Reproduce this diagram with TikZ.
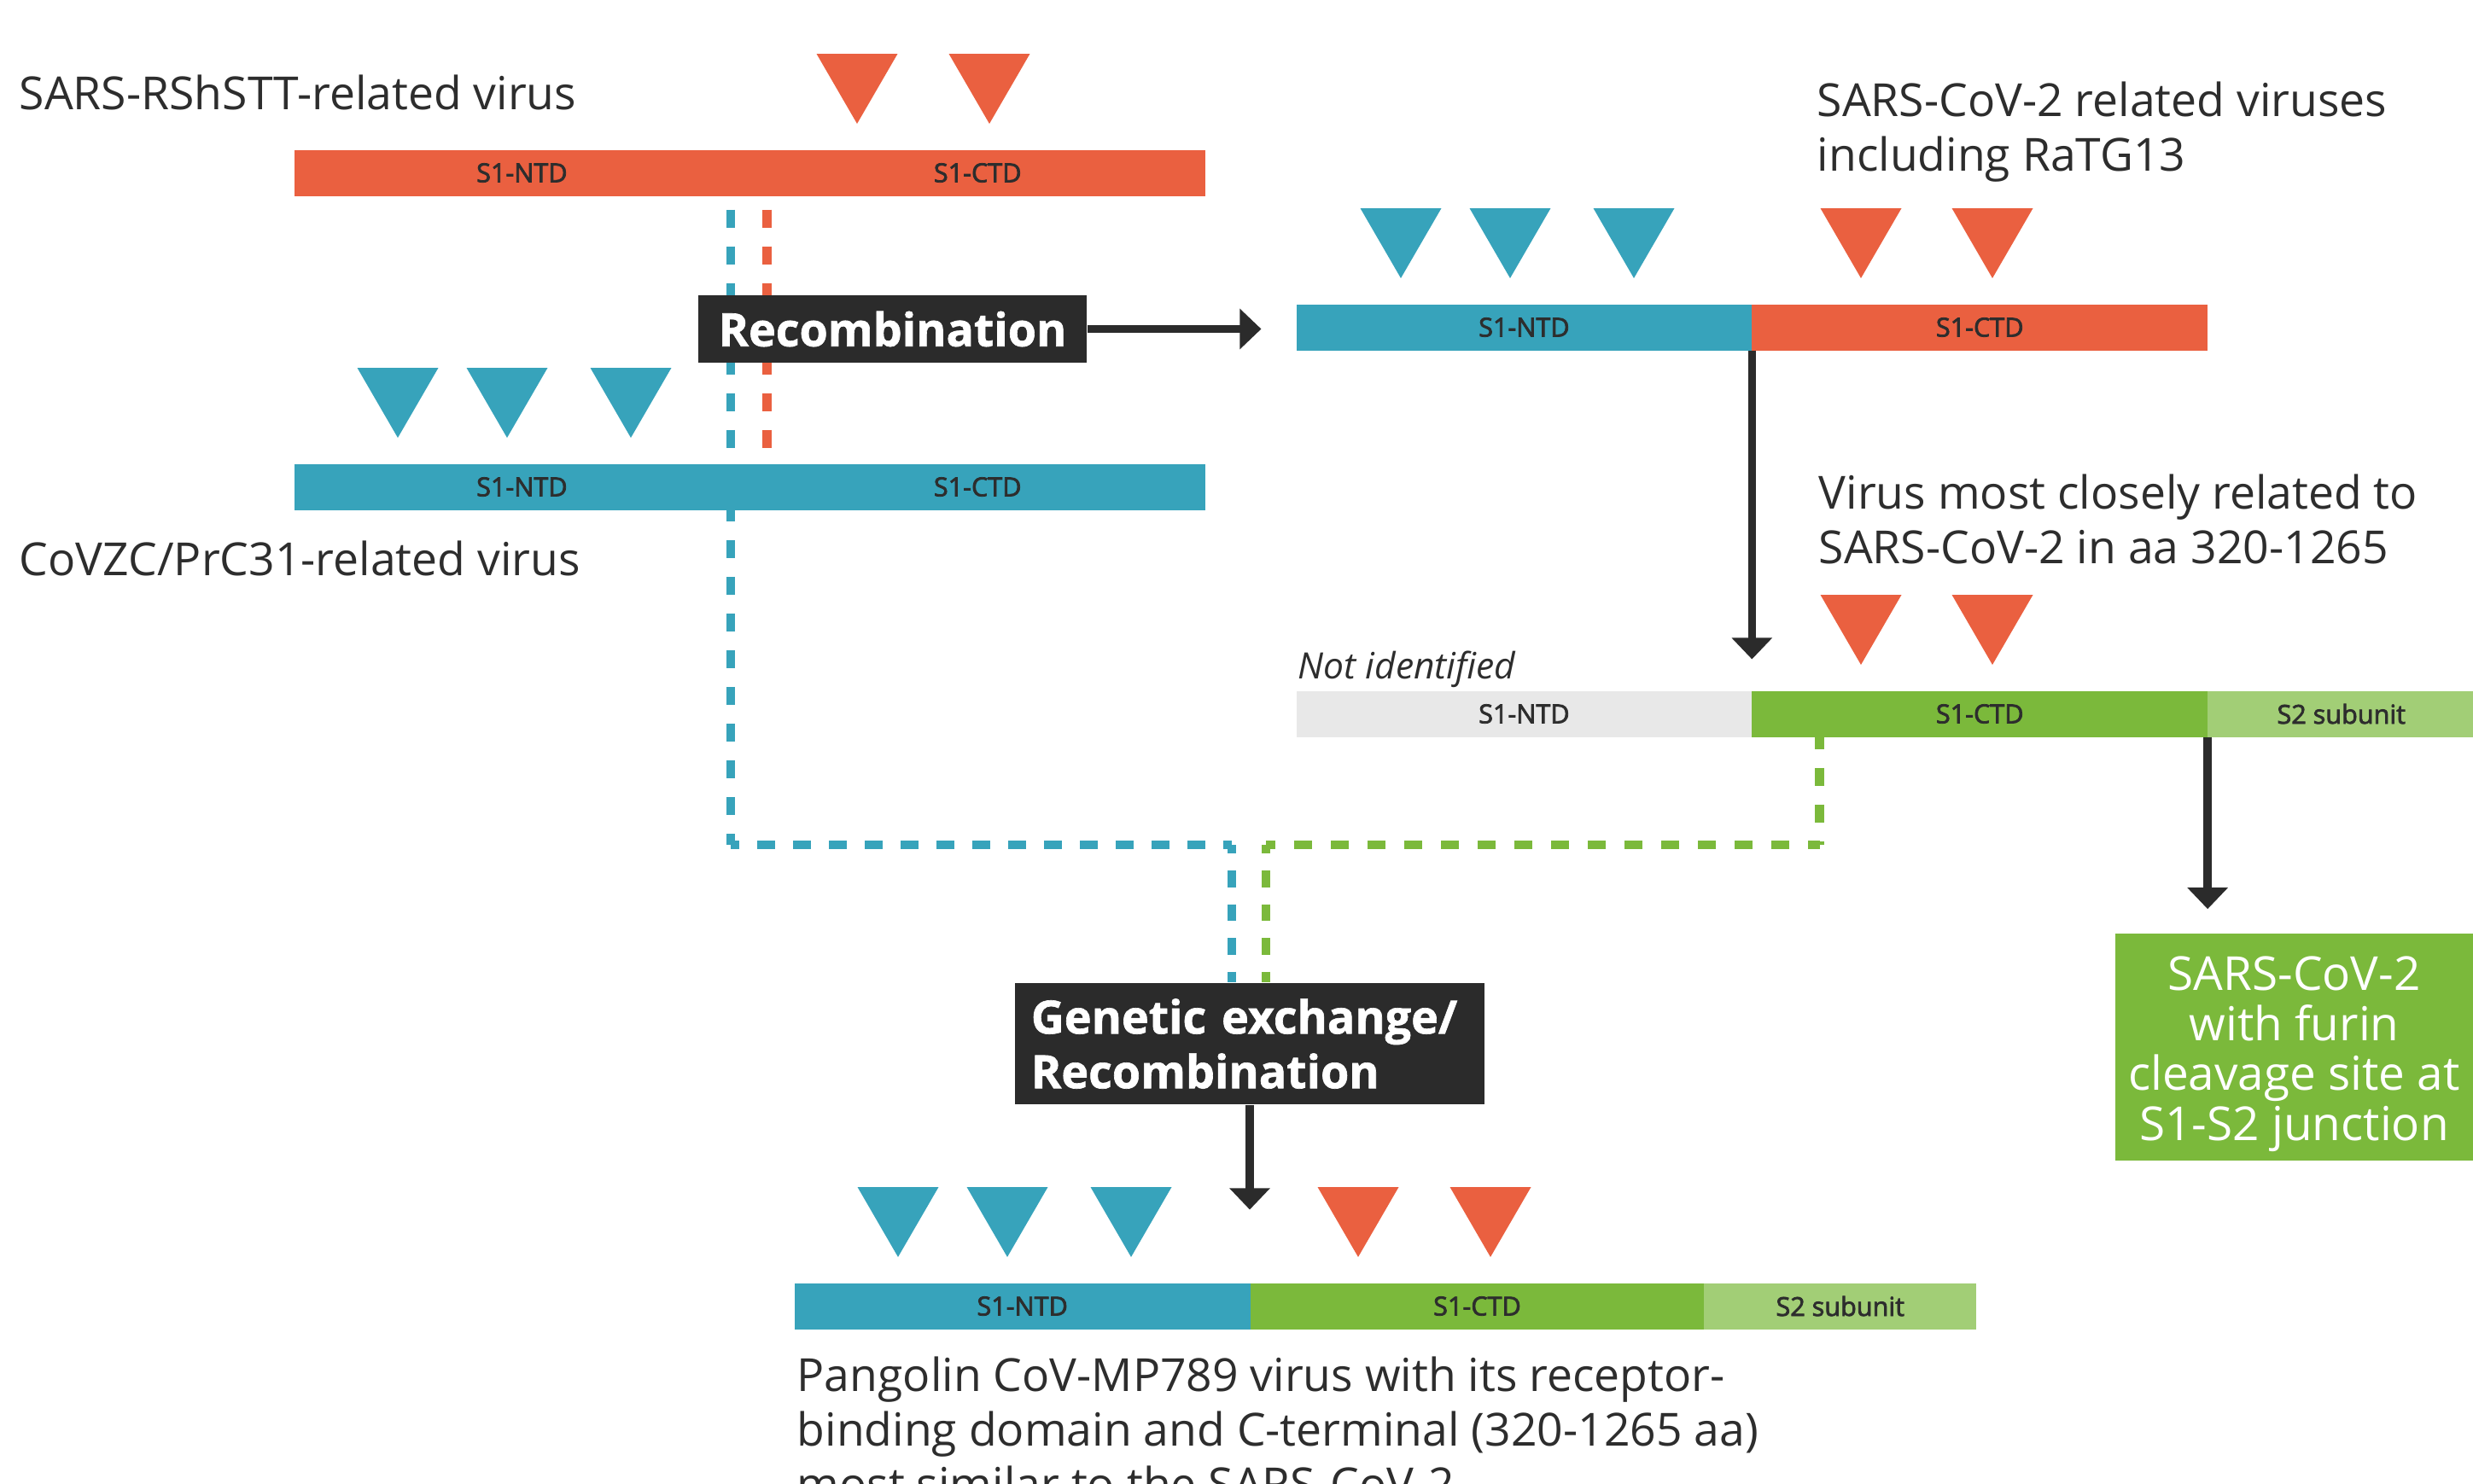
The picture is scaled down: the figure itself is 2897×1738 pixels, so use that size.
\documentclass[tikz,border=0pt]{standalone}
\usepackage{fontspec}
\setmainfont{Open Sans}
\newfontfamily\labfont{Open Sans}[FakeBold=2.5]
\newfontfamily\heavyfont{Open Sans}[BoldFeatures={FakeBold=1.2}]
\usetikzlibrary{arrows.meta}

\definecolor{cOrange}{RGB}{234,96,64}
\definecolor{cBlue}{RGB}{55,163,187}
\definecolor{cGreen}{RGB}{123,185,59}
\definecolor{cLight}{RGB}{162,206,118}
\definecolor{cGrey}{RGB}{232,232,232}
\definecolor{cDark}{RGB}{43,43,43}
\definecolor{cText}{RGB}{45,45,45}

\newcommand\segfont{\labfont\fontsize{8.7pt}{10pt}\selectfont}
\newcommand\lblfont{\fontsize{15.2pt}{18.07pt}\selectfont}
\newcommand\boxfont{\heavyfont\bfseries\fontsize{15.3pt}{18.2pt}\selectfont}
\newcommand\greenfont{\fontsize{15.6pt}{16.65pt}\selectfont}

% down-pointing marker: apex x, top y, colour
\newcommand\vtri[3]{\fill[#3] ({#1-47.5},#2) -- ({#1+47.5},#2) -- (#1,{#2+82}) -- cycle;}

\pgfdeclarelayer{bg}
\pgfsetlayers{bg,main}

\tikzset{
  seg/.style={rectangle, inner sep=0pt, minimum height=0.53cm, anchor=north west,
              fill=#1, draw=#1, line width=0.01cm, text=cText, font=\segfont},
  lbl/.style={inner sep=0pt, anchor=base west, align=left, text=cText, font=\lblfont},
  darkbox/.style={fill=cDark, text=white, inner sep=0pt, font=\boxfont},
  arr/.style={draw=cDark, line width=0.095cm, -{Triangle[width=0.46cm,length=0.25cm]}},
  dashline/.style={line width=0.105cm},
}

\begin{document}
\begin{tikzpicture}[x=0.01cm,y=-0.01cm]
\useasboundingbox (0,0) rectangle (2897,1738);
\clip (0,0) rectangle (2897,1738);

% ---- spike protein bars ----
\node[seg=cOrange, minimum width=5.325cm] (b1n) at (344.5,175.5) {S1-NTD};
\node[seg=cOrange, minimum width=5.325cm] (b1c) at (b1n.north east) {S1-CTD};

\node[seg=cBlue, minimum width=5.325cm] (b2n) at (344.5,543.5) {S1-NTD};
\node[seg=cBlue, minimum width=5.325cm] (b2c) at (b2n.north east) {S1-CTD};

\node[seg=cBlue, minimum width=5.325cm] (b3n) at (1518.5,356.5) {S1-NTD};
\node[seg=cOrange, minimum width=5.325cm] (b3c) at (b3n.north east) {S1-CTD};

\node[seg=cGrey, minimum width=5.325cm] (b4n) at (1518.5,809.5) {S1-NTD};
\node[seg=cGreen, minimum width=5.325cm] (b4c) at (b4n.north east) {S1-CTD};
\node[seg=cLight, minimum width=3.12cm] (b4s) at (b4c.north east) {S2 subunit};

\node[seg=cBlue, minimum width=5.33cm] (b5n) at (930.5,1503.5) {S1-NTD};
\node[seg=cGreen, minimum width=5.30cm] (b5c) at (b5n.north east) {S1-CTD};
\node[seg=cLight, minimum width=3.18cm] (b5s) at (b5c.north east) {S2 subunit};

% ---- markers ----
\vtri{1004}{63}{cOrange}\vtri{1159}{63}{cOrange}
\vtri{466}{431}{cBlue}\vtri{594}{431}{cBlue}\vtri{739}{431}{cBlue}
\vtri{1641}{244}{cBlue}\vtri{1769}{244}{cBlue}\vtri{1914}{244}{cBlue}
\vtri{2180}{244}{cOrange}\vtri{2334}{244}{cOrange}
\vtri{2180}{697}{cOrange}\vtri{2334}{697}{cOrange}
\vtri{1052}{1391}{cBlue}\vtri{1180}{1391}{cBlue}\vtri{1325}{1391}{cBlue}
\vtri{1591}{1391}{cOrange}\vtri{1746}{1391}{cOrange}

% ---- labels (multi-line ones are anchored at their last baseline) ----
\node[lbl] (t1) at (22,128) {SARS-RShSTT-related virus};
\node[lbl] (t2) at (22,674) {CoVZC/PrC31-related virus};
\node[lbl] (t3) at (2128,200.5) {SARS-CoV-2 related viruses\\including RaTG13};
\node[lbl] (t4) at (2130,660.5) {Virus most closely related to\\SARS-CoV-2 in aa 320-1265};
\node[lbl, font=\itshape\fontsize{12.1pt}{16pt}\selectfont] (t5) at (1520,795) {Not identified};
\node[lbl] (t6) at (933,1758) {Pangolin CoV-MP789 virus with its receptor-\\binding domain and C-terminal (320-1265 aa)\\most similar to the SARS-CoV-2};

% ---- event boxes ----
\node[darkbox, minimum width=4.55cm, minimum height=0.79cm] (rbox) at (1045.5,385.5) {Recombination};
\node[darkbox, align=left, text width=5.12cm, inner xsep=0.19cm, minimum height=1.42cm] (gbox) at (1464,1223) {Genetic exchange/\\Recombination};
\node[fill=cGreen, text=white, align=center, font=\greenfont, inner sep=0pt,
      minimum width=4.19cm, minimum height=2.66cm] (fbox) at (2687.5,1227)
      {\rule{0pt}{0.56cm}SARS-CoV-2\\with furin\\cleavage site at\\S1-S2 junction};

% ---- breakpoint traces ----
\coordinate (xb) at (856,0);
\coordinate (xo) at (898.5,0);
\coordinate (xbl) at (1443,0);
\coordinate (xgl) at (1483,0);
\coordinate (xg) at (2131.5,0);
\coordinate (yj) at (0,990);
\begin{pgfonlayer}{bg}
  \draw[dashline, cBlue, dash pattern=on 0.21cm off 0.22cm, dash phase=0.27cm]
    (xb |- b1n.south) -- (xb |- yj);
  \draw[dashline, cBlue, dash pattern=on 0.21cm off 0.21cm, dash phase=0.11cm]
    (xb |- yj) -- (xbl |- yj);
  \draw[dashline, cBlue, dash pattern=on 0.195cm off 0.2cm, dash phase=0.095cm]
    (xbl |- yj) -- (xbl |- gbox.north);
  \draw[dashline, cOrange, dash pattern=on 0.21cm off 0.22cm, dash phase=0.27cm]
    (xo |- b1n.south) -- (xo |- b2n.north);
  \draw[dashline, cGreen, dash pattern=on 0.21cm off 0.22cm, dash phase=0.07cm]
    (xg |- b4c.south) -- (xg |- yj);
  \draw[dashline, cGreen, dash pattern=on 0.21cm off 0.22cm, dash phase=0.10cm]
    (xgl |- yj) -- (xg |- yj);
  \draw[dashline, cGreen, dash pattern=on 0.195cm off 0.2cm, dash phase=0.095cm]
    (xgl |- yj) -- (xgl |- gbox.north);
\end{pgfonlayer}

% ---- arrows ----
\draw[arr, shorten >=0.41cm] (rbox.east) -- (rbox.east -| b3n.west);
\draw[arr, shorten >=0.37cm] (b3n.south east) -- (b4n.north east);
\draw[arr, shorten >=0.28cm] (b4c.south east) -- (b4c.south east |- fbox.north);
\draw[arr, shorten >=0.86cm] (gbox.south) -- (gbox.south |- b5n.north);
\end{tikzpicture}
\end{document}
